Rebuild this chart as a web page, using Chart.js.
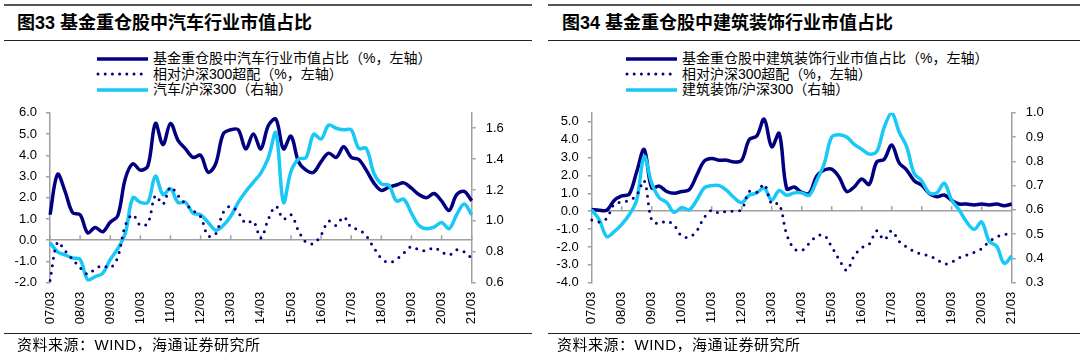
<!DOCTYPE html>
<html>
<head>
<meta charset="utf-8">
<script src="https://cdn.jsdelivr.net/npm/chart.js@4.4.1/dist/chart.umd.min.js"></script>
<style>
  body { margin: 0; background: #fff; }
  #page { position: relative; width: 1080px; height: 358px; overflow: hidden;
          font-family: "Liberation Sans", Arial, "Noto Sans CJK SC", sans-serif; color: #000; }
  .rule { position: absolute; height: 0; }
  .title { position: absolute; top: 10px; height: 26px; line-height: 26px; font-size: 18px;
           font-weight: bold; white-space: nowrap; }
  .legend { position: absolute; top: 51px; font-size: 14px; line-height: 15.5px; }
  .legend div { display: flex; align-items: center; white-space: nowrap; height: 15.5px; }
  .legend svg { margin-right: 4px; }
  .source { position: absolute; top: 335px; left: 17px; height: 20px; line-height: 20px;
            font-size: 15px; letter-spacing: 0.5px; white-space: nowrap; }
  canvas { position: absolute; top: 95px; }
</style>
</head>
<body>
<div id="page">
  <!-- left panel -->
  <div class="rule" style="left:4px;width:528px;top:4px;border-top:2px solid #555;"></div>
  <div class="title" style="left:17px;">图33 基金重仓股中汽车行业市值占比</div>
  <div class="rule" style="left:4px;width:528px;top:40px;border-top:1.5px solid #222;"></div>
  <div class="legend" style="left:96px;">
    <div><svg width="53" height="8"><line x1="1" y1="4" x2="52" y2="4" stroke="#000080" stroke-width="3.5"/></svg>基金重仓股中汽车行业市值占比（%，左轴）</div>
    <div><svg width="53" height="8"><line x1="2" y1="4" x2="52" y2="4" stroke="#000080" stroke-width="3" stroke-linecap="round" stroke-dasharray="0 7.2"/></svg>相对沪深300超配（%，左轴）</div>
    <div><svg width="53" height="8"><line x1="1" y1="4" x2="52" y2="4" stroke="#18C8F5" stroke-width="3.5"/></svg>汽车/沪深300（右轴）</div>
  </div>
  <canvas id="autoChart" width="540" height="240" style="left:0;"></canvas>
  <div class="rule" style="left:4px;width:528px;top:333px;border-top:1.5px solid #222;"></div>
  <div class="source">资料来源：WIND，海通证券研究所</div>

  <!-- right panel -->
  <div class="rule" style="left:548px;width:532px;top:4px;border-top:2px solid #555;"></div>
  <div class="title" style="left:562px;">图34 基金重仓股中建筑装饰行业市值占比</div>
  <div class="rule" style="left:548px;width:532px;top:40px;border-top:1.5px solid #222;"></div>
  <div class="legend" style="left:625px;">
    <div><svg width="53" height="8"><line x1="1" y1="4" x2="52" y2="4" stroke="#000080" stroke-width="3.5"/></svg>基金重仓股中建筑装饰行业市值占比（%，左轴）</div>
    <div><svg width="53" height="8"><line x1="2" y1="4" x2="52" y2="4" stroke="#000080" stroke-width="3" stroke-linecap="round" stroke-dasharray="0 7.2"/></svg>相对沪深300超配（%，左轴）</div>
    <div><svg width="53" height="8"><line x1="1" y1="4" x2="52" y2="4" stroke="#18C8F5" stroke-width="3.5"/></svg>建筑装饰/沪深300（右轴）</div>
  </div>
  <canvas id="buildChart" width="540" height="240" style="left:540px;"></canvas>
  <div class="rule" style="left:548px;width:532px;top:333px;border-top:1.5px solid #222;"></div>
  <div class="source" style="left:557px;">资料来源：WIND，海通证券研究所</div>
</div>

<script>
// quarterly categories
const quarters = [
  '07/03','07/06','07/09','07/12','08/03','08/06','08/09','08/12',
  '09/03','09/06','09/09','09/12','10/03','10/06','10/09','10/12',
  '11/03','11/06','11/09','11/12','12/03','12/06','12/09','12/12',
  '13/03','13/06','13/09','13/12','14/03','14/06','14/09','14/12',
  '15/03','15/06','15/09','15/12','16/03','16/06','16/09','16/12',
  '17/03','17/06','17/09','17/12','18/03','18/06','18/09','18/12',
  '19/03','19/06','19/09','19/12','20/03','20/06','20/09','20/12',
  '21/03'
];
const yearTicks = ['07/03','08/03','09/03','10/03','11/03','12/03','13/03','14/03',
                   '15/03','16/03','17/03','18/03','19/03','20/03','21/03'];

// axis tick values
const autoLeftTicks = [-2, -1, 0, 1, 2, 3, 4, 5, 6];
const autoRightTicks = [0.6, 0.8, 1.0, 1.2, 1.4, 1.6];
const buildLeftTicks = [-4, -3, -2, -1, 0, 1, 2, 3, 4, 5];
const buildRightTicks = [0.3, 0.4, 0.5, 0.6, 0.7, 0.8, 0.9, 1.0];

// 图33 汽车
const autoShare = [1.2, 3.1, 2.3, 1.3, 1.2, 0.35, 0.6, 0.4, 0.85, 1.15, 2.9, 3.6, 3.3, 3.5, 5.5, 4.5,
  5.5, 4.7, 4.3, 3.9, 4.0, 3.2, 3.6, 5.0, 5.2, 5.2, 4.3, 5.0, 4.3, 5.4, 5.7, 4.3,
  4.9, 3.7, 3.3, 3.2, 3.7, 4.1, 3.9, 4.4, 3.9, 3.8, 3.3, 2.7, 2.35, 2.5, 2.6, 2.7,
  2.45, 2.15, 2.0, 2.2, 1.85, 1.4, 2.15, 2.3, 1.85];
const autoExcess = [-1.9, -0.1, -0.5, -0.9, -1.3, -1.6, -1.35, -1.2, -1.3, -0.8, 0.7, 1.2, 0.7, 0.8, 2.1, 1.7,
  2.5, 2.1, 1.7, 1.4, 1.1, 0.2, 0.3, 1.3, 1.6, 1.3, 0.8, 0.9, 0.1, 1.0, 1.6, 1.0,
  1.2, 0.45, -0.1, -0.15, 0.25, 0.9, 0.7, 1.1, 0.6, 0.5, 0.2, -0.35, -0.85, -1.05, -0.9, -0.6,
  -0.3, -0.45, -0.5, -0.35, -0.55, -0.7, -0.45, -0.55, -0.85];
const autoRatio = [0.86, 0.80, 0.78, 0.76, 0.75, 0.62, 0.64, 0.66, 0.75, 0.82, 0.92, 1.15, 1.12, 1.12, 1.29, 1.17,
  1.21, 1.12, 1.12, 1.05, 1.04, 0.99, 0.94, 0.97, 1.03, 1.12, 1.19, 1.25, 1.31, 1.41, 1.57, 1.12,
  1.32, 1.40, 1.41, 1.56, 1.53, 1.62, 1.60, 1.59, 1.59, 1.47, 1.47, 1.31, 1.24, 1.23, 1.13, 1.14,
  1.05, 0.97, 0.95, 0.96, 0.99, 0.95, 1.04, 1.11, 1.04];

// 图34 建筑装饰
const buildShare = [0.1, 0.05, 0.05, 0.6, 0.85, 0.95, 2.2, 3.45, 1.3, 1.4, 1.1, 1.0, 1.1, 1.2, 2.0, 2.8,
  2.95, 2.85, 2.85, 2.75, 2.85, 4.0, 4.2, 5.15, 3.6, 4.35, 1.25, 1.35, 1.05, 1.0, 1.95, 2.3,
  2.35, 1.9, 1.1, 1.35, 1.8, 1.5, 2.75, 2.9, 3.7, 2.7, 2.3, 1.7, 1.45, 1.0, 0.8, 0.9,
  0.6, 0.4, 0.4, 0.35, 0.4, 0.35, 0.4, 0.3, 0.4];
const buildExcess = [-0.5, -0.6, -0.4, 0.4, 0.5, 0.6, 0.9, 1.7, -0.5, -0.7, -0.55, -0.8, -1.4, -1.45, -1.1, -0.35,
  0.05, -0.1, 0.0, 0.0, 0.1, 1.1, 1.05, 1.5, 0.4, 0.4, -1.3, -2.1, -2.2, -1.8, -1.4, -1.35,
  -2.0, -2.7, -3.3, -2.5, -2.05, -1.85, -1.1, -1.6, -1.1, -1.7, -2.0, -2.25, -2.4, -2.5, -2.7, -2.95,
  -2.85, -2.6, -2.45, -2.3, -2.1, -1.7, -1.45, -1.3, -1.3];
const buildRatio = [0.60, 0.56, 0.49, 0.51, 0.54, 0.58, 0.64, 0.82, 0.71, 0.65, 0.63, 0.59, 0.61, 0.60, 0.64, 0.69,
  0.70, 0.70, 0.68, 0.65, 0.63, 0.66, 0.67, 0.69, 0.64, 0.68, 0.66, 0.67, 0.67, 0.66, 0.72, 0.79,
  0.90, 0.91, 0.90, 0.87, 0.85, 0.83, 0.84, 0.94, 1.00, 0.92, 0.86, 0.75, 0.72, 0.67, 0.67, 0.71,
  0.64, 0.60, 0.55, 0.52, 0.55, 0.47, 0.45, 0.38, 0.41];

const navy = '#000080';
const cyan = '#18C8F5';
const axisGray = '#a0a0a0';

Chart.defaults.font.family = '"Liberation Sans", Arial, sans-serif';
Chart.defaults.font.size = 13;
Chart.defaults.color = '#000';

// little upward ticks on the zero line at each year
const zeroTicks = {
  id: 'zeroTicks',
  beforeDatasetsDraw(chart) {
    const x = chart.scales.x, y = chart.scales.y;
    const y0 = y.getPixelForValue(0);
    const c = chart.ctx;
    c.save();
    c.strokeStyle = axisGray;
    c.lineWidth = 1.5;
    yearTicks.forEach(lab => {
      const px = x.getPixelForValue(quarters.indexOf(lab));
      c.beginPath();
      c.moveTo(px, y0);
      c.lineTo(px, y0 - 5);
      c.stroke();
    });
    c.restore();
  }
};

function makeChart(id, share, excess, ratio, left, right, leftWidth) {
  return new Chart(document.getElementById(id), {
    type: 'line',
    data: {
      labels: quarters,
      datasets: [
        { data: share, yAxisID: 'y', borderColor: navy, borderWidth: 3.5, order: 3 },
        { data: ratio, yAxisID: 'y1', borderColor: cyan, borderWidth: 3.5, order: 2 },
        { data: excess, yAxisID: 'y', borderColor: navy, borderWidth: 3, order: 1,
          borderDash: [0, 7.5], borderCapStyle: 'round' }
      ]
    },
    options: {
      responsive: false,
      animation: false,
      devicePixelRatio: 1,
      layout: { padding: { top: 9 } },
      elements: { point: { radius: 0 }, line: { tension: 0.35 } },
      plugins: { legend: { display: false }, tooltip: { enabled: false } },
      scales: {
        x: {
          grid: { display: false, drawTicks: false },
          border: { display: false },
          ticks: { autoSkip: false, maxRotation: 90, minRotation: 90, padding: 9 },
          afterBuildTicks: s => { s.ticks = s.ticks.filter(t => yearTicks.includes(quarters[t.value])); },
          afterFit: s => { s.height = 52.3; }
        },
        y: {
          position: 'left',
          min: left.min, max: left.max,
          ticks: { padding: 9, callback: v => v.toFixed(1) },
          afterBuildTicks: s => { s.ticks = left.ticks.map(v => ({ value: v })); },
          grid: {
            color: c => (c.tick && c.tick.value === 0) ? axisGray : 'rgba(0,0,0,0)',
            tickColor: axisGray, tickLength: 4, lineWidth: 1.5
          },
          border: { color: axisGray, width: 1.5 },
          afterFit: s => { s.width = leftWidth; }
        },
        y1: {
          position: 'right',
          min: right.min, max: right.max,
          ticks: { padding: 10, callback: v => v.toFixed(1) },
          afterBuildTicks: s => { s.ticks = right.ticks.map(v => ({ value: v })); },
          grid: { drawOnChartArea: false, tickColor: axisGray, tickLength: 4, lineWidth: 1.5 },
          border: { color: axisGray, width: 1.5 },
          afterFit: s => { s.width = 540 - 471.7; }
        }
      }
    },
    plugins: [zeroTicks]
  });
}

makeChart('autoChart', autoShare, autoExcess, autoRatio,
  { min: -2, max: 6, ticks: autoLeftTicks }, { min: 0.6, max: 1.7, ticks: autoRightTicks }, 50);
makeChart('buildChart', buildShare, buildExcess, buildRatio,
  { min: -4, max: 5.5, ticks: buildLeftTicks }, { min: 0.3, max: 1.0, ticks: buildRightTicks }, 51.7);
</script>
</body>
</html>
